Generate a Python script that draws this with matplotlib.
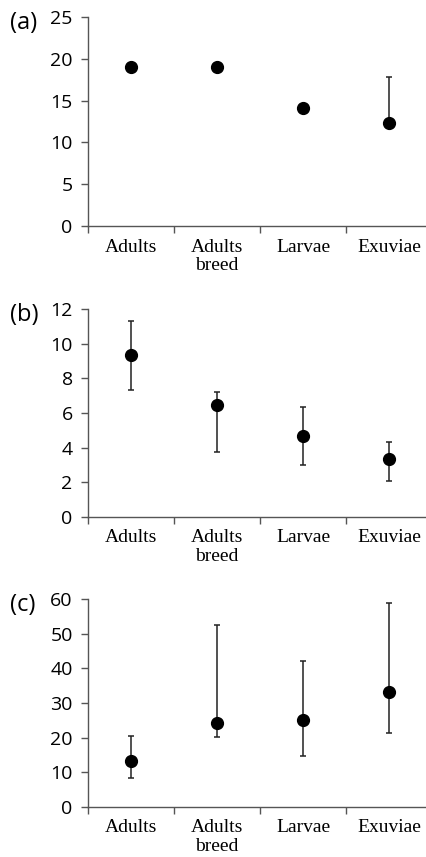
import matplotlib
matplotlib.use('Agg')
from matplotlib import pyplot

categories = ['Adults', 'Adults\nbreed', 'Larvae', 'Exuviae']

# panel (a)
a_mean = [19.0, 19.0, 14.1, 12.35]
a_low = [18.6, 18.5, 13.6, 11.8]
a_high = [19.4, 19.5, 14.6, 17.8]

# panel (b)
b_mean = [9.35, 6.44, 4.67, 3.35]
b_low = [7.35, 3.73, 3.02, 2.09]
b_high = [11.31, 7.21, 6.32, 4.31]

# panel (c)
c_mean = [13.2, 24.2, 25.2, 33.3]
c_low = [8.4, 20.2, 14.6, 21.4]
c_high = [20.6, 52.6, 42.1, 58.8]

panels = [
    ('(a)', a_mean, a_low, a_high, 25, 5),
    ('(b)', b_mean, b_low, b_high, 12, 2),
    ('(c)', c_mean, c_low, c_high, 60, 10),
]

W, H = 426, 857
fig = pyplot.figure(figsize=(W / 100, H / 100), dpi=100)

tops = [17, 309, 599]
bottoms = [226, 517, 807]
left, right = 88, 432
axis_color = '#555555'

for (label, mean, low, high, ymax, step), top, bottom in zip(panels, tops, bottoms):
    ax = fig.add_axes([left / W, 1 - bottom / H, (right - left) / W, (bottom - top) / H])
    x = [i + 0.5 for i in range(len(categories))]
    yerr = [[m - l for m, l in zip(mean, low)], [h - m for m, h in zip(mean, high)]]
    ax.errorbar(x, mean, yerr=yerr, fmt='o', color='black', markersize=8.5,
                ecolor='#222222', elinewidth=1.1, capsize=2.5, capthick=1.1)
    ax.set_xlim(0, 4)
    ax.set_ylim(0, ymax)
    ax.set_yticks(range(0, ymax + 1, step))
    ax.set_xticks(range(0, 5))
    ax.set_xticklabels([])
    ax.set_xticks(x, minor=True)
    ax.set_xticklabels(categories, minor=True, fontfamily='Liberation Serif',
                       fontsize=14, linespacing=1.15)
    ax.tick_params(axis='x', which='minor', length=0, pad=9)
    ax.tick_params(axis='x', which='major', length=5, width=1, color=axis_color)
    ax.tick_params(axis='y', length=5, width=1, color=axis_color, pad=6)
    for t in ax.get_yticklabels():
        t.set_fontfamily('Open Sans')
        t.set_fontsize(14)
    for side in ('top', 'right'):
        ax.spines[side].set_visible(False)
    for side in ('left', 'bottom'):
        ax.spines[side].set_color(axis_color)
        ax.spines[side].set_linewidth(1)
    fig.text(10 / W, 1 - (top + 6) / H, label, fontfamily='Open Sans', fontsize=17,
             va='center', ha='left')

fig.savefig('out.png', dpi=100)
